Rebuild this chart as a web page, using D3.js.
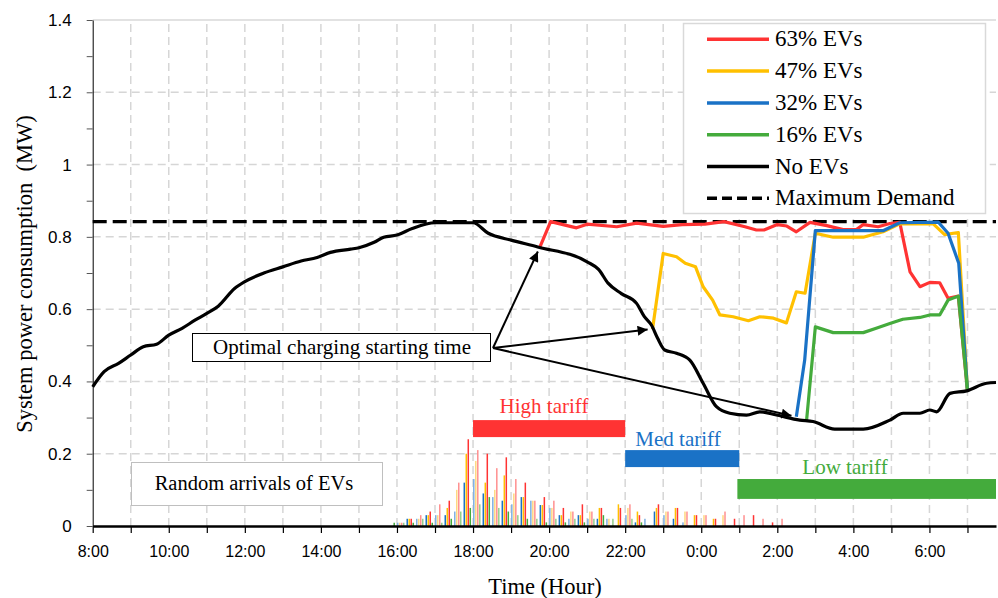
<!DOCTYPE html>
<html>
<head>
<meta charset="utf-8">
<script src="https://cdnjs.cloudflare.com/ajax/libs/d3/7.8.5/d3.min.js"></script>
<style>
body { margin: 0; background: #fff; }
text { font-family: "Liberation Serif", "Times New Roman", serif; }
.tick text { font-family: "Liberation Sans", Arial, sans-serif; font-size: 16px; fill: #000; }
</style>
</head>
<body>
<svg id="chart" width="998" height="598"></svg>
<script>
// time is in hours counted from 8:00 (16 = 0:00 next day)

var xTickLabels = ["8:00","10:00","12:00","14:00","16:00","18:00","20:00","22:00","0:00","2:00","4:00","6:00"];
var yTickLabels = ["0","0.2","0.4","0.6","0.8","1","1.2","1.4"];

var maxDemand = 0.842;

// No EVs (base load)
var hoursNoEV = [0,0.3,0.68,1,1.33,1.68,2,2.35,2.7,3,3.3,3.73,4,4.5,5,5.48,5.9,6.25,6.78,7,7.4,7.65,8,8.4,9,10,10.4,11,11.7,13,13.3,13.55,13.9,14.3,14.5,14.69,14.85,15.04,15.35,15.7,16.05,16.4,16.75,17.19,17.54,17.98,18.59,18.94,19.51,20.26,20.96,21.31,21.75,22.01,22.19,22.54,22.98,23.5,23.75];
var noEV = [0.385,0.427,0.45,0.473,0.496,0.503,0.528,0.547,0.57,0.588,0.608,0.657,0.676,0.7,0.717,0.733,0.743,0.757,0.766,0.77,0.785,0.799,0.805,0.823,0.839,0.839,0.81,0.791,0.772,0.731,0.71,0.672,0.643,0.616,0.58,0.556,0.52,0.487,0.478,0.459,0.395,0.33,0.312,0.307,0.316,0.307,0.293,0.289,0.268,0.268,0.293,0.312,0.312,0.321,0.316,0.367,0.374,0.395,0.397];

// 63% EVs
var hours63 = [11.76,12.04,12.72,13,13.78,14.3,15,15.5,16.1,16.6,17.15,17.45,17.65,18,18.25,18.5,18.86,19.3,19.73,20.08,20.26,20.65,20.96,21.22,21.49,21.75,22.01,22.27,22.49,22.76,23];
var ev63 = [0.772,0.842,0.825,0.835,0.828,0.838,0.829,0.834,0.835,0.842,0.828,0.819,0.819,0.834,0.83,0.814,0.84,0.831,0.82,0.82,0.834,0.828,0.837,0.84,0.703,0.662,0.674,0.673,0.63,0.636,0.375];

// 47% EVs
var hours47 = [14.72,15,15.35,15.58,15.85,16.05,16.3,16.49,16.84,17.24,17.54,17.9,18.24,18.5,18.73,19,19.47,20.26,20.78,21.22,22.1,22.4,22.76,23];
var ev47 = [0.545,0.754,0.745,0.727,0.717,0.662,0.625,0.584,0.579,0.568,0.579,0.575,0.562,0.648,0.644,0.81,0.799,0.799,0.814,0.836,0.836,0.806,0.812,0.375];

// 32% EVs
var hours32 = [18.5,18.72,19,20.78,21.22,22.23,22.49,22.77,23];
var ev32 = [0.302,0.459,0.817,0.817,0.839,0.841,0.81,0.727,0.375];

// 16% EVs
var hours16 = [18.77,19,19.47,20.26,20.6,20.96,21.3,21.75,22.01,22.27,22.49,22.76,23];
var ev16 = [0.293,0.551,0.535,0.535,0.547,0.56,0.572,0.577,0.584,0.584,0.625,0.636,0.375];

// random EV arrivals, one slot every 15 min from 15:45 to 2:00
var arrivalSlots = [7.75,8,8.25,8.5,8.75,9,9.25,9.5,9.75,10,10.25,10.5,10.75,11,11.25,11.5,11.75,12,12.25,12.5,12.75,13,13.25,13.5,13.75,14,14.25,14.5,14.75,15,15.25,15.5,15.75,16,16.25,16.5,16.75,17,17.25,17.5,17.75,18];
var arrBlue   = [0,0.009,0.02,0.02,0.03,0.03,0.03,0.04,0.12,0.13,0.09,0.08,0.07,0.06,0.08,0.07,0.058,0.05,0.03,0.02,0.03,0.02,0.02,0.02,0,0.03,0.01,0.02,0.04,0.03,0.02,0.01,0,0,0,0,0,0,0,0,0,0];
var arrOrange = [0,0.009,0.02,0.02,0.03,0.03,0.05,0.1,0.2,0.18,0.12,0.1,0.14,0.09,0.08,0.07,0.058,0.05,0.03,0.04,0.03,0.04,0.05,0.02,0.06,0.05,0.04,0,0.05,0.04,0.05,0.04,0.03,0.03,0.02,0.03,0,0,0,0,0,0];
var arrRed    = [0,0.009,0.02,0.03,0.04,0.06,0.07,0.12,0.24,0.21,0.2,0.16,0.19,0.13,0.12,0.07,0.08,0.07,0.05,0.04,0.06,0.04,0.05,0,0.05,0.06,0.03,0,0.06,0.04,0.05,0.04,0.03,0.03,0.02,0.04,0.02,0.03,0.03,0.02,0.01,0.02];
var arrGreen  = [0.009,0.009,0.009,0.02,0.009,0.009,0.02,0.04,0.05,0.06,0.08,0.05,0.04,0.03,0.02,0.02,0.01,0.02,0.01,0.02,0.01,0.02,0.03,0.02,0,0.02,0.01,0,0,0,0,0,0,0,0,0,0,0,0,0,0,0];

// tariff periods
var tariffNames = ["High tariff","Med tariff","Low tariff"];
var tariffFrom = [10, 14, 16.95];
var tariffTo = [14, 17, 23.75];

var legendLabels = ["63% EVs","47% EVs","32% EVs","16% EVs","No EVs","Maximum Demand"];

var red = "#ff3333", yellow = "#ffc000", blue = "#1a72c6", green = "#44ab3c";

var svg = d3.select("#chart");

var x = d3.scaleLinear().domain([0, 23.75]).range([92.7, 996]);
var y = d3.scaleLinear().domain([0, 1.4]).range([526, 20]);

// grid
svg.append("g").selectAll("line")
    .data(d3.range(1, 24))
    .enter().append("line")
    .attr("x1", d => x(d)).attr("x2", d => x(d))
    .attr("y1", y(0)).attr("y2", y(1.4))
    .attr("stroke", "#d6d6d6").attr("stroke-width", 1.5)
    .attr("stroke-dasharray", "8,5");

svg.append("g").selectAll("line")
    .data([0.2, 0.4, 0.6, 0.8, 1, 1.2])
    .enter().append("line")
    .attr("x1", x(0)).attr("x2", x(23.75))
    .attr("y1", d => y(d)).attr("y2", d => y(d))
    .attr("stroke", "#d6d6d6").attr("stroke-width", 1.5)
    .attr("stroke-dasharray", "8,5");

svg.append("line")
    .attr("x1", x(0)).attr("x2", x(23.75))
    .attr("y1", y(1.4)).attr("y2", y(1.4))
    .attr("stroke", "#d9d9d9").attr("stroke-width", 1.5);

// arrival bars
var arrSeries = [
    {vals: arrBlue, dark: blue, light: "#7fb0e2"},
    {vals: arrOrange, dark: yellow, light: "#ffd880"},
    {vals: arrRed, dark: red, light: "#ff9090"},
    {vals: arrGreen, dark: green, light: "#94cf8c"}
];
var inner = d3.scaleBand().domain(d3.range(4)).range([0, 8]);

arrSeries.forEach(function(s, k) {
    svg.append("g").selectAll("rect")
        .data(arrivalSlots.map((t, i) => ({t: t, v: s.vals[i], i: i})).filter(d => d.v > 0))
        .enter().append("rect")
        .attr("x", d => x(d.t) + inner(k))
        .attr("width", 1.5)
        .attr("y", d => y(d.v))
        .attr("height", d => y(0) - y(d.v))
        .attr("fill", d => d.i % 2 == 1 ? s.light : s.dark);
});

// tariff bars
var tariffColors = [red, blue, green];
var tariffTop = [0.293, 0.21, 0.13];
var tariffBottom = [0.246, 0.163, 0.075];
tariffNames.forEach(function(name, i) {
    svg.append("rect")
        .attr("x", x(tariffFrom[i]))
        .attr("width", x(tariffTo[i]) - x(tariffFrom[i]))
        .attr("y", y(tariffTop[i]))
        .attr("height", y(tariffBottom[i]) - y(tariffTop[i]))
        .attr("fill", tariffColors[i]);
});
svg.append("text").text(tariffNames[0]).attr("x", 544).attr("y", 413)
    .attr("text-anchor", "middle").attr("font-size", 21).attr("fill", red);
svg.append("text").text(tariffNames[1]).attr("x", 678).attr("y", 446)
    .attr("text-anchor", "middle").attr("font-size", 21).attr("fill", blue);
svg.append("text").text(tariffNames[2]).attr("x", 845).attr("y", 474)
    .attr("text-anchor", "middle").attr("font-size", 21).attr("fill", green);

// random arrivals box
svg.append("rect").attr("x", 131.5).attr("y", 462.5).attr("width", 251).attr("height", 43)
    .attr("fill", "#fff").attr("stroke", "#bfbfbf");
svg.append("text").text("Random arrivals of EVs").attr("x", 254).attr("y", 490)
    .attr("text-anchor", "middle").attr("font-size", 20.5);

// max demand
svg.append("line")
    .attr("x1", x(0)).attr("x2", x(23.75))
    .attr("y1", y(maxDemand)).attr("y2", y(maxDemand))
    .attr("stroke", "#000").attr("stroke-width", 3.2)
    .attr("stroke-dasharray", "14,6");

// lines
function drawSeries(hours, vals, color, curve) {
    var line = d3.line().x(d => x(d[0])).y(d => y(d[1])).curve(curve);
    svg.append("path")
        .datum(hours.map((h, i) => [h, vals[i]]))
        .attr("d", line)
        .attr("fill", "none")
        .attr("stroke", color)
        .attr("stroke-width", 3.2)
        .attr("stroke-linejoin", "round");
}
drawSeries(hours63, ev63, red, d3.curveLinear);
drawSeries(hours47, ev47, yellow, d3.curveLinear);
drawSeries(hours32, ev32, blue, d3.curveLinear);
drawSeries(hours16, ev16, green, d3.curveLinear);
drawSeries(hoursNoEV, noEV, "#000", d3.curveMonotoneX);

// axes
var xAxis = d3.axisBottom(x)
    .tickValues(d3.range(0, 24))
    .tickFormat((d, i) => i % 2 == 0 ? xTickLabels[i / 2] : "")
    .tickSizeInner(7).tickSizeOuter(0).tickPadding(13);
var gx = svg.append("g").attr("transform", "translate(0," + y(0) + ")").call(xAxis);
gx.select(".domain").attr("stroke-width", 2.5);
gx.selectAll(".tick line").attr("stroke-width", 1.2);

var yAxis = d3.axisLeft(y)
    .tickValues(d3.range(0, 15).map(d => d / 10))
    .tickFormat((d, i) => i % 2 == 0 ? yTickLabels[i / 2] : "")
    .tickSizeInner(6).tickSizeOuter(0).tickPadding(15);
var gy = svg.append("g").attr("transform", "translate(" + x(0) + ",0)").call(yAxis);
gy.selectAll(".tick line").attr("stroke", "#555");
gy.selectAll(".tick text").style("font-size", "17px");

// axis titles
svg.append("text").text("Time (Hour)").attr("x", 545).attr("y", 594)
    .attr("text-anchor", "middle").attr("font-size", 22.5);
svg.append("text").text("System power consumption  (MW)")
    .attr("transform", "translate(32,274) rotate(-90)")
    .attr("text-anchor", "middle").attr("font-size", 22.5)
    .style("white-space", "pre");

// annotation with arrows to the start of charging
svg.append("defs").append("marker")
    .attr("id", "arrow").attr("viewBox", "0 0 10 10")
    .attr("refX", 10).attr("refY", 5)
    .attr("markerWidth", 7).attr("markerHeight", 5)
    .attr("orient", "auto")
    .append("path").attr("d", "M0,0 L10,5 L0,10 z").attr("fill", "#000");

var startX = 493, startY = 348;
[[hours63[0], ev63[0]], [hours47[0], ev47[0]], [hours32[0], ev32[0]]].forEach(function(p) {
    var tx = x(p[0]), ty = y(p[1]);
    var dx = tx - startX, dy = ty - startY, len = Math.sqrt(dx * dx + dy * dy);
    svg.append("line")
        .attr("x1", startX).attr("y1", startY)
        .attr("x2", tx - dx / len * 5).attr("y2", ty - dy / len * 5)
        .attr("stroke", "#000").attr("stroke-width", 2)
        .attr("marker-end", "url(#arrow)");
});

svg.append("rect").attr("x", 192.5).attr("y", 333.5).attr("width", 298).attr("height", 28)
    .attr("fill", "#fff").attr("stroke", "#000");
svg.append("text").text("Optimal charging starting time").attr("x", 342).attr("y", 354)
    .attr("text-anchor", "middle").attr("font-size", 21);

// legend
var legendColors = [red, yellow, blue, green, "#000", "#000"];
var legend = svg.append("g");
legend.append("rect").attr("x", 683.5).attr("y", 23.5).attr("width", 302).attr("height", 190)
    .attr("fill", "#fff").attr("stroke", "#d9d9d9").attr("stroke-width", 1.5);
legendLabels.forEach(function(label, i) {
    var ly = 39.3 + i * 31.8;
    legend.append("line")
        .attr("x1", 707).attr("x2", 769).attr("y1", ly).attr("y2", ly)
        .attr("stroke", legendColors[i]).attr("stroke-width", 3.5)
        .attr("stroke-dasharray", i == 5 ? "10,5" : null);
    legend.append("text").text(label).attr("x", 775).attr("y", ly + 7)
        .attr("font-size", 23);
});
</script>
</body>
</html>
